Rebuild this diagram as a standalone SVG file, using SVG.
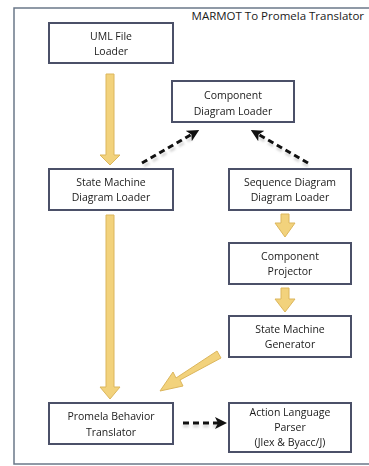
<svg xmlns="http://www.w3.org/2000/svg" width="369" height="466" viewBox="0 0 369 466">
<defs>
<style>
.box{fill:#fff;stroke:#4b5068;stroke-width:2}
.t{font-family:"Open Sans","Liberation Sans",sans-serif;font-size:10.5px;fill:#1a1a1a;text-anchor:middle}
.ya{fill:#f2d27c;stroke:#dcb65c;stroke-width:1}
.da{fill:none;stroke:#111;stroke-width:3;stroke-dasharray:6 4}
.sh{fill:none;stroke:#bbb;stroke-width:3;stroke-dasharray:6 4;opacity:0.6}
</style>
<marker id="ah" markerWidth="4" markerHeight="4" refX="2" refY="2" orient="auto" markerUnits="strokeWidth">
<path d="M0,0 L4,2 L0,4 L1,2 Z" fill="#111"/>
</marker>
<filter id="blur" x="-20%" y="-20%" width="140%" height="140%"><feGaussianBlur stdDeviation="1.2"/></filter>
</defs>
<rect x="0" y="0" width="369" height="466" fill="#fff"/>
<path d="M375,8 L14,8 L14,464 L375,464" fill="none" stroke="#6b7889" stroke-width="1.5"/>
<text x="364" y="20" font-family="'Open Sans','Liberation Sans',sans-serif" font-size="11.5" fill="#1a1a1a" text-anchor="end">MARMOT To Promela Translator</text>

<g id="connectors">
<path class="ya" d="M106,74 L114,74 L114,155 L120,155 L110,165 L100,155 L106,155 Z"/>
<path class="ya" d="M106,215 L114,215 L114,387 L120,387 L110,399 L100,387 L106,387 Z"/>
<path class="ya" d="M281,214 L289,214 L289,223 L295,223 L285,237 L275,223 L281,223 Z"/>
<path class="ya" d="M281,288 L289,288 L289,299 L295,299 L285,312 L275,299 L281,299 Z"/>
<path class="ya" d="M217,351 L221,358 L180,380 L183,386 L160,391 L173,372 L176,378 Z"/>
<g filter="url(#blur)">
<path class="sh" d="M144,166 L196,136"/>
<path class="sh" d="M308,166 L256,136"/>
<path class="sh" d="M183,426 L221,426"/>
</g>
<path class="da" d="M142,163 L194,133" marker-end="url(#ah)"/>
<path class="da" d="M308,163 L256,133" marker-end="url(#ah)"/>
<path class="da" d="M183,423 L221,423" marker-end="url(#ah)"/>
</g>

<g id="uml-file-loader"><rect class="box" x="49" y="23" width="124" height="40"/><text class="t" x="111" y="40">UML File</text><text class="t" x="111" y="55">Loader</text></g>
<g id="component-diagram-loader"><rect class="box" x="172" y="81" width="122" height="41"/><text class="t" x="233" y="99">Component</text><text class="t" x="233" y="115">Diagram Loader</text></g>
<g id="state-machine-diagram-loader"><rect class="box" x="49" y="169" width="124" height="41"/><text class="t" x="111" y="186">State Machine</text><text class="t" x="111" y="201">Diagram Loader</text></g>
<g id="sequence-diagram-loader"><rect class="box" x="229" y="169" width="122" height="41"/><text class="t" x="290" y="186">Sequence Diagram</text><text class="t" x="290" y="201">Diagram Loader</text></g>
<g id="component-projector"><rect class="box" x="229" y="243" width="122" height="41"/><text class="t" x="290" y="260">Component</text><text class="t" x="290" y="275">Projector</text></g>
<g id="state-machine-generator"><rect class="box" x="229" y="316" width="122" height="41"/><text class="t" x="290" y="333">State Machine</text><text class="t" x="290" y="348">Generator</text></g>
<g id="promela-behavior-translator"><rect class="box" x="49" y="403" width="124" height="41"/><text class="t" x="111" y="420">Promela Behavior</text><text class="t" x="111" y="436">Translator</text></g>
<g id="action-language-parser"><rect class="box" x="229" y="403" width="122" height="49"/><text class="t" x="290" y="416">Action Language</text><text class="t" x="290" y="431">Parser</text><text class="t" x="290" y="446">(Jlex &amp; Byacc/J)</text></g>
</svg>
